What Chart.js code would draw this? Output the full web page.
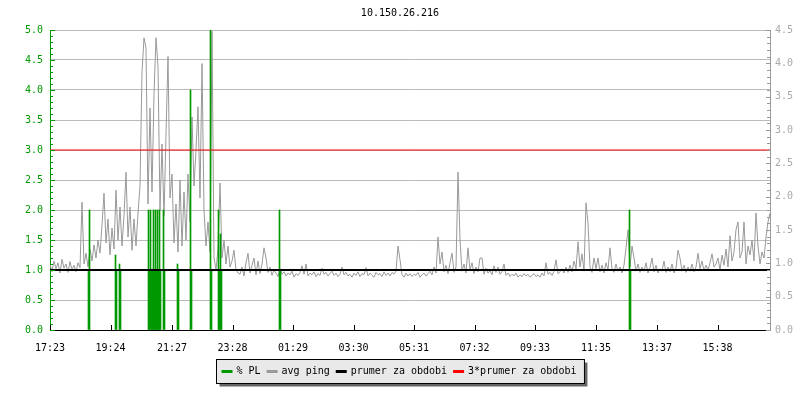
<!DOCTYPE html>
<html>
<head>
<meta charset="utf-8">
<title>10.150.26.216</title>
<script src="https://cdn.jsdelivr.net/npm/chart.js@4"></script>
<style>
    body { margin: 0; background: #fff; }
    canvas { display: block; }
</style>
</head>
<body>
<canvas id="pingChart" width="800" height="400"></canvas>
<script>
// Data grafu: 24 hodin od 17:23
const hostName = '10.150.26.216';
const startTime = '17:23';
const totalMinutes = 1440;
const timeLabels = ['17:23', '19:24', '21:27', '23:28', '01:29', '03:30',
                    '05:31', '07:32', '09:33', '11:35', '13:37', '15:38'];

// avg ping, jeden vzorek kazde 4 minuty
const sampleStep = 4;
const avgPing = [
    1.10, 0.97, 1.15, 1.02, 1.12, 0.95, 1.18, 1.03, 1.10, 0.96,
    1.14, 1.00, 1.08, 0.97, 1.12, 1.04, 2.13, 1.10, 1.28, 1.05,
    1.35, 1.15, 1.42, 1.20, 1.50, 1.28, 1.75, 2.28, 1.45, 1.85,
    1.25, 1.70, 1.35, 2.33, 1.50, 2.05, 1.40, 1.90, 2.63, 1.55,
    2.05, 1.33, 1.85, 1.40, 1.95, 2.40, 4.30, 4.87, 4.70, 2.10,
    3.70, 2.30, 3.93, 4.87, 4.40, 2.00, 3.10, 1.90, 3.27, 4.56,
    2.20, 2.60, 1.45, 2.10, 1.30, 2.50, 1.40, 2.30, 1.50, 2.60,
    1.80, 3.55, 2.40, 3.00, 3.72, 2.20, 4.44, 2.00, 1.40, 1.80,
    1.30, 4.98, 1.20, 1.00, 1.35, 2.45, 1.20, 1.50, 1.10, 1.40,
    1.05, 1.15, 1.33, 1.00, 0.95, 0.93, 1.05, 0.90, 1.12, 1.28,
    0.95, 1.08, 1.20, 0.92, 1.15, 0.94, 1.10, 1.37, 1.20, 0.96,
    1.05, 0.91, 1.00, 0.95, 0.89, 1.02, 0.93, 0.97, 0.90, 0.95,
    0.92, 0.98, 0.88, 0.94, 0.91, 0.96, 1.07, 0.93, 1.10, 0.90,
    0.95, 0.92, 0.97, 0.89, 0.94, 0.91, 1.03, 0.93, 0.96, 0.90,
    0.94, 0.98, 0.91, 0.95, 0.89, 0.93, 1.05, 0.92, 0.96, 0.90,
    0.93, 0.88, 0.95, 0.91, 0.97, 0.89, 0.94, 0.92, 1.04, 0.90,
    0.95, 0.91, 0.88, 0.96, 0.92, 0.94, 0.89, 0.97, 0.91, 0.95,
    0.90, 0.96, 0.93, 0.98, 1.40, 1.17, 0.92, 0.88, 0.95, 0.90,
    0.94, 0.89, 0.93, 0.91, 0.96, 0.88, 0.92, 0.95, 0.90, 0.94,
    0.98, 0.92, 1.05, 0.95, 1.55, 1.10, 1.30, 0.97, 1.08, 0.94,
    1.12, 1.28, 0.96, 1.05, 2.63, 1.50, 0.98, 1.10, 0.95, 1.37,
    1.00, 1.12, 0.94, 1.05, 0.97, 1.20, 1.20, 0.93, 1.03, 0.95,
    0.99, 0.92, 1.07, 0.96, 1.05, 0.93, 0.97, 1.10, 0.91, 0.95,
    0.89, 0.93, 0.90, 0.95, 0.88, 0.92, 0.89, 0.94, 0.90, 0.93,
    0.88, 0.91, 0.94, 0.89, 0.92, 0.88, 0.95, 0.90, 1.12, 0.93,
    0.96, 0.91, 0.98, 1.17, 0.94, 0.97, 1.02, 0.95, 1.05, 0.96,
    1.08, 0.97, 1.15, 1.02, 1.47, 1.05, 1.27, 0.98, 2.12, 1.78,
    1.05, 0.96, 1.20, 1.02, 1.20, 0.97, 1.08, 0.95, 1.12, 1.00,
    1.37, 1.02, 0.96, 1.10, 0.98, 1.05, 0.95, 1.08, 1.37, 1.67,
    1.05, 1.40, 1.20, 0.98, 1.10, 0.96, 1.05, 0.98, 1.12, 0.95,
    1.04, 1.20, 0.97, 1.08, 0.95, 1.02, 0.98, 1.15, 0.96, 1.05,
    0.97, 1.10, 0.95, 1.03, 1.33, 1.20, 0.98, 1.08, 0.96, 1.05,
    0.98, 1.10, 0.97, 1.05, 1.28, 1.02, 1.15, 0.99, 1.08, 1.00,
    1.12, 1.27, 1.05, 1.10, 1.20, 1.00, 1.25, 1.08, 1.35, 1.05,
    1.57, 1.15, 1.30, 1.67, 1.80, 1.20, 1.30, 1.80, 1.10, 1.40,
    1.25, 1.50, 1.15, 1.95, 1.40, 1.10, 1.30, 1.20, 1.55, 1.80,
    1.95
];

// % PL - jen nenulove vzorky (minuty od zacatku)
const plTimes  = [77, 79, 131, 133, 139, 141,
                  197, 199, 201, 203, 205, 207, 209, 211, 213, 215, 217, 219, 221, 227, 229,
                  255, 257, 281, 283, 321, 323, 337, 339, 341, 343, 459, 461, 1159, 1161];
const plValues = [1.0, 2.0, 1.25, 1.0, 1.1, 1.0,
                  2.0, 1.0, 2.0, 1.0, 1.0, 2.0, 1.0, 2.0, 1.0, 2.0, 1.0, 2.0, 1.0, 2.0, 1.0,
                  1.1, 1.0, 4.0, 1.0, 5.2, 1.0, 2.0, 1.0, 1.6, 1.0, 2.0, 1.0, 2.0, 1.0];

const prumer = 1.0;   // prumer za obdobi

const green = '#009900';
const gray = '#999999';
const monoFont = { family: 'DejaVu Sans Mono', size: 10 };

// prevod "hh:mm" na minuty od zacatku grafu
function minutesFromStart(label) {
    const toMin = s => parseInt(s.slice(0, 2)) * 60 + parseInt(s.slice(3, 5));
    return (toMin(label) - toMin(startTime) + 1440) % 1440;
}
const tickMinutes = timeLabels.map(minutesFromStart);

// ticky dovnitr grafu + vedlejsi ticky po 0.1
const innerTicks = {
    id: 'innerTicks',
    afterDatasetsDraw(chart) {
        const ctx = chart.ctx;
        const area = chart.chartArea;
        const sx = chart.scales.x, sy = chart.scales.y, sy2 = chart.scales.y2;
        ctx.save();
        ctx.lineWidth = 1;

        ctx.strokeStyle = '#000';
        tickMinutes.forEach(m => {
            const px = Math.round(sx.getPixelForValue(m)) + 0.5;
            ctx.beginPath();
            ctx.moveTo(px, area.bottom);
            ctx.lineTo(px, area.bottom - 5);
            ctx.stroke();
        });

        ctx.strokeStyle = green;
        for (let i = 0; i <= sy.max * 10; i++) {
            const py = Math.round(sy.getPixelForValue(i / 10)) + 0.5;
            ctx.beginPath();
            ctx.moveTo(area.left, py);
            ctx.lineTo(area.left + (i % 5 === 0 ? 5 : 3), py);
            ctx.stroke();
        }

        ctx.strokeStyle = gray;
        for (let i = 0; i <= Math.round(sy2.max * 10); i++) {
            const py = Math.round(sy2.getPixelForValue(i / 10)) + 0.5;
            ctx.beginPath();
            ctx.moveTo(area.right, py);
            ctx.lineTo(area.right - (i % 5 === 0 ? 4 : 3), py);
            ctx.stroke();
        }
        ctx.restore();
    }
};

// nadpis a legenda v ramecku se stinem
const titleAndLegend = {
    id: 'titleAndLegend',
    afterDraw(chart) {
        const ctx = chart.ctx;
        ctx.save();
        ctx.font = '10px "DejaVu Sans Mono"';
        ctx.fillStyle = '#000';
        ctx.textAlign = 'center';
        ctx.textBaseline = 'middle';
        ctx.fillText(hostName, 400, 13);

        const items = chart.data.datasets;
        const lineW = 11, gapLine = 4, gapItem = 6, pad = 5;
        let total = pad * 2 + 3;
        items.forEach((d, i) => {
            total += lineW + gapLine + ctx.measureText(d.label).width;
            if (i < items.length - 1) total += gapItem;
        });
        const left = Math.round(400 - total / 2) + 0.5;
        const top = 359.5, h = 24;

        ctx.fillStyle = '#666';
        ctx.fillRect(left + 3, top + 3, total, h);
        ctx.fillStyle = '#e9e9e9';
        ctx.fillRect(left, top, total, h);
        ctx.strokeStyle = '#000';
        ctx.lineWidth = 1;
        ctx.strokeRect(left, top, total, h);

        let x = left + pad;
        const cy = top + h / 2;
        ctx.textAlign = 'left';
        items.forEach(d => {
            ctx.strokeStyle = d.borderColor;
            ctx.lineWidth = 3;
            ctx.beginPath();
            ctx.moveTo(x, cy);
            ctx.lineTo(x + lineW, cy);
            ctx.stroke();
            x += lineW + gapLine;
            ctx.fillStyle = '#000';
            ctx.fillText(d.label, x, cy);
            x += ctx.measureText(d.label).width + gapItem;
        });
        ctx.restore();
    }
};

const ctx = document.getElementById('pingChart').getContext('2d');

new Chart(ctx, {
    type: 'line',
    data: {
        datasets: [{
            type: 'bar',
            label: '% PL',
            data: plTimes.map((t, i) => ({ x: t, y: plValues[i] })),
            backgroundColor: green,
            borderColor: green,
            borderWidth: 0,
            barThickness: 1,
            grouped: false,
            order: 2
        }, {
            label: 'avg ping',
            data: avgPing.map((v, i) => ({ x: i * sampleStep, y: v })),
            borderColor: gray,
            borderWidth: 1,
            pointRadius: 0,
            tension: 0,
            order: 3
        }, {
            label: 'prumer za obdobi',
            data: [{ x: 0, y: prumer }, { x: totalMinutes, y: prumer }],
            borderColor: '#000',
            borderWidth: 2,
            pointRadius: 0,
            order: 1
        }, {
            label: '3*prumer za obdobi',
            data: [{ x: 0, y: 3 * prumer }, { x: totalMinutes, y: 3 * prumer }],
            borderColor: '#ff0000',
            borderWidth: 1,
            pointRadius: 0,
            order: 0
        }]
    },
    options: {
        responsive: false,
        animation: false,
        devicePixelRatio: 1,
        layout: { padding: { top: 30, left: 0, right: 0, bottom: 0 } },
        plugins: {
            legend: { display: false },
            title: { display: false },
            tooltip: { enabled: false }
        },
        scales: {
            x: {
                type: 'linear',
                min: 0,
                max: totalMinutes,
                offset: false,
                grid: { display: false, offset: false },
                border: { color: '#000', width: 1 },
                afterBuildTicks: scale => {
                    scale.ticks = tickMinutes.map(v => ({ value: v }));
                },
                afterFit: scale => { scale.height = 70; },
                ticks: {
                    autoSkip: false,
                    maxRotation: 0,
                    padding: 4,
                    color: '#000',
                    font: monoFont,
                    callback: (value) => timeLabels[tickMinutes.indexOf(value)]
                }
            },
            y: {
                position: 'left',
                min: 0,
                max: 5,
                grid: { color: '#bbbbbb', drawTicks: false },
                border: { color: green, width: 1 },
                afterFit: scale => { scale.width = 50; },
                ticks: {
                    stepSize: 0.5,
                    padding: 7,
                    color: green,
                    font: monoFont,
                    callback: v => v.toFixed(1)
                }
            },
            y2: {
                position: 'right',
                min: 0,
                max: 4.5,
                grid: { display: false, drawOnChartArea: false, drawTicks: false },
                border: { color: gray, width: 1 },
                afterFit: scale => { scale.width = 30; },
                ticks: {
                    stepSize: 0.5,
                    padding: 5,
                    color: '#aaaaaa',
                    font: monoFont,
                    callback: v => v.toFixed(1)
                }
            }
        }
    },
    plugins: [innerTicks, titleAndLegend]
});
</script>
</body>
</html>
